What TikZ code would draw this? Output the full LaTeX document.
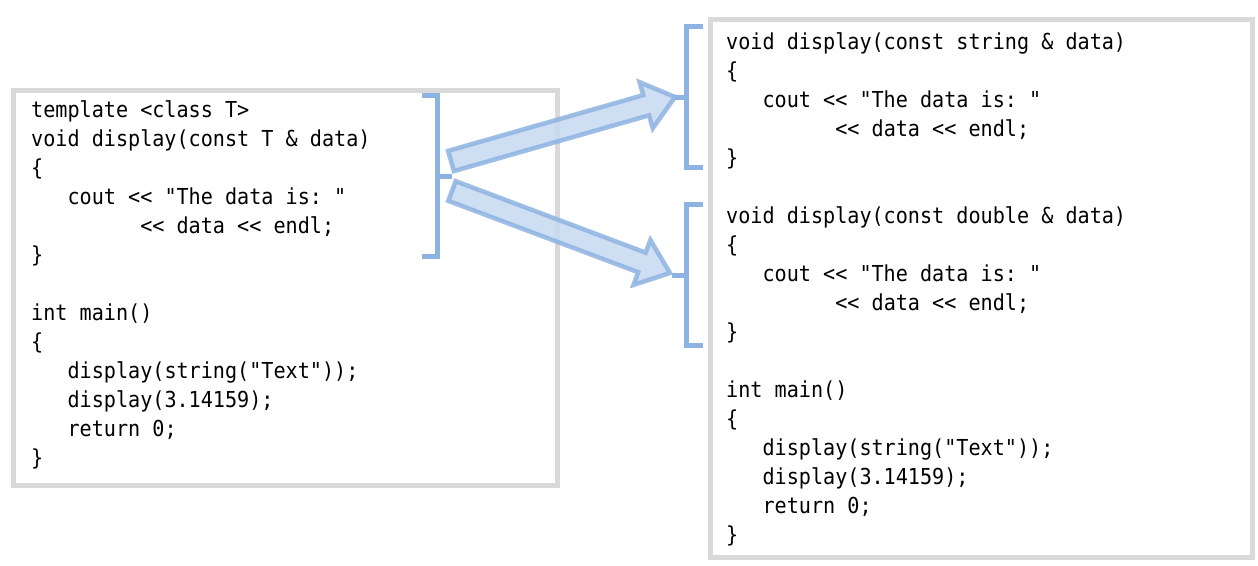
\documentclass[tikz,border=0pt]{standalone}
\usepackage{fontspec}
\setmonofont[FakeStretch=0.915]{DejaVu Sans Mono}
\usetikzlibrary{calc}

\definecolor{boxgray}{HTML}{D9D9D9}
\definecolor{brblue}{HTML}{8DB3E2}
\definecolor{arfill}{HTML}{C6D9F1}

\tikzset{
  codebox/.style={draw=boxgray, line width=5pt, fill=white, inner sep=0pt, anchor=north west},
  code/.style={anchor=base west, inner sep=0pt, font=\ttfamily\fontsize{22}{29}\selectfont},
  bracket/.style={draw=brblue, line width=5pt},
  blockarrow/.style={draw=brblue, fill=arfill, line width=4.5pt, line join=miter, opacity=0.85},
}

% fat arrow from tail #1 to tip #2, using helper coordinate #3 at the head base
\newcommand\fatarrow[3]{%
  \coordinate (#3) at ($(#2)!30pt!(#1)$);
  \draw[blockarrow]
    ($(#1)!10.5pt!-90:(#2)$) -- ($(#3)!10.5pt!-90:(#2)$) -- ($(#3)!24pt!-90:(#2)$)
    -- (#2)
    -- ($(#3)!24pt!90:(#2)$) -- ($(#3)!10.5pt!90:(#2)$) -- ($(#1)!10.5pt!90:(#2)$) -- cycle;
}

\begin{document}
\begin{tikzpicture}[x=1pt, y=-1pt]
  \useasboundingbox (0,0) rectangle (1258,565);

  % the two code panels
  \node[codebox, minimum width=544pt, minimum height=395pt] (lbox) at (11,88) {};
  \node[codebox, minimum width=542.5pt, minimum height=538pt] (rbox) at (707.5,16.5) {};

  % template version
  \node[code] (l1)  at (31,117) {template <class T>};
  \node[code] (l2)  at (31,146) {void display(const T \& data)};
  \node[code] (l3)  at (31,175) {\{};
  \node[code] (l4)  at (31,204) {~~~cout << "The data is: "};
  \node[code] (l5)  at (31,233) {~~~~~~~~~<< data << endl;};
  \node[code] (l6)  at (31,262) {\}};
  \node[code] (l7)  at (31,320) {int main()};
  \node[code] (l8)  at (31,349) {\{};
  \node[code] (l9)  at (31,378) {~~~display(string("Text"));};
  \node[code] (l10) at (31,407) {~~~display(3.14159);};
  \node[code] (l11) at (31,436) {~~~return 0;};
  \node[code] (l12) at (31,465) {\}};

  % instantiated versions
  \node[code] (r1)  at (726,49)  {void display(const string \& data)};
  \node[code] (r2)  at (726,78)  {\{};
  \node[code] (r3)  at (726,107) {~~~cout << "The data is: "};
  \node[code] (r4)  at (726,136) {~~~~~~~~~<< data << endl;};
  \node[code] (r5)  at (726,165) {\}};
  \node[code] (r6)  at (726,223) {void display(const double \& data)};
  \node[code] (r7)  at (726,252) {\{};
  \node[code] (r8)  at (726,281) {~~~cout << "The data is: "};
  \node[code] (r9)  at (726,310) {~~~~~~~~~<< data << endl;};
  \node[code] (r10) at (726,339) {\}};
  \node[code] (r11) at (726,397) {int main()};
  \node[code] (r12) at (726,426) {\{};
  \node[code] (r13) at (726,455) {~~~display(string("Text"));};
  \node[code] (r14) at (726,484) {~~~display(3.14159);};
  \node[code] (r15) at (726,513) {~~~return 0;};
  \node[code] (r16) at (726,542) {\}};

  % brackets
  \draw[bracket] (422,95.5) -- (437.5,95.5) -- (437.5,256.5) -- (422,256.5);
  \draw[bracket] (437.5,176) -- (452,176);
  \draw[bracket] (703,26.5) -- (686.5,26.5) -- (686.5,167) -- (703,167);
  \draw[bracket] (686.5,97) -- (672,97);
  \draw[bracket] (703,204) -- (686.5,204) -- (686.5,345) -- (703,345);
  \draw[bracket] (686.5,275) -- (672,275);

  % arrows
  \coordinate (t1) at (451,161);
  \coordinate (h1) at (675,97);
  \coordinate (t2) at (452,191);
  \coordinate (h2) at (670,273);
  \fatarrow{t1}{h1}{c1}
  \fatarrow{t2}{h2}{c2}
\end{tikzpicture}
\end{document}
